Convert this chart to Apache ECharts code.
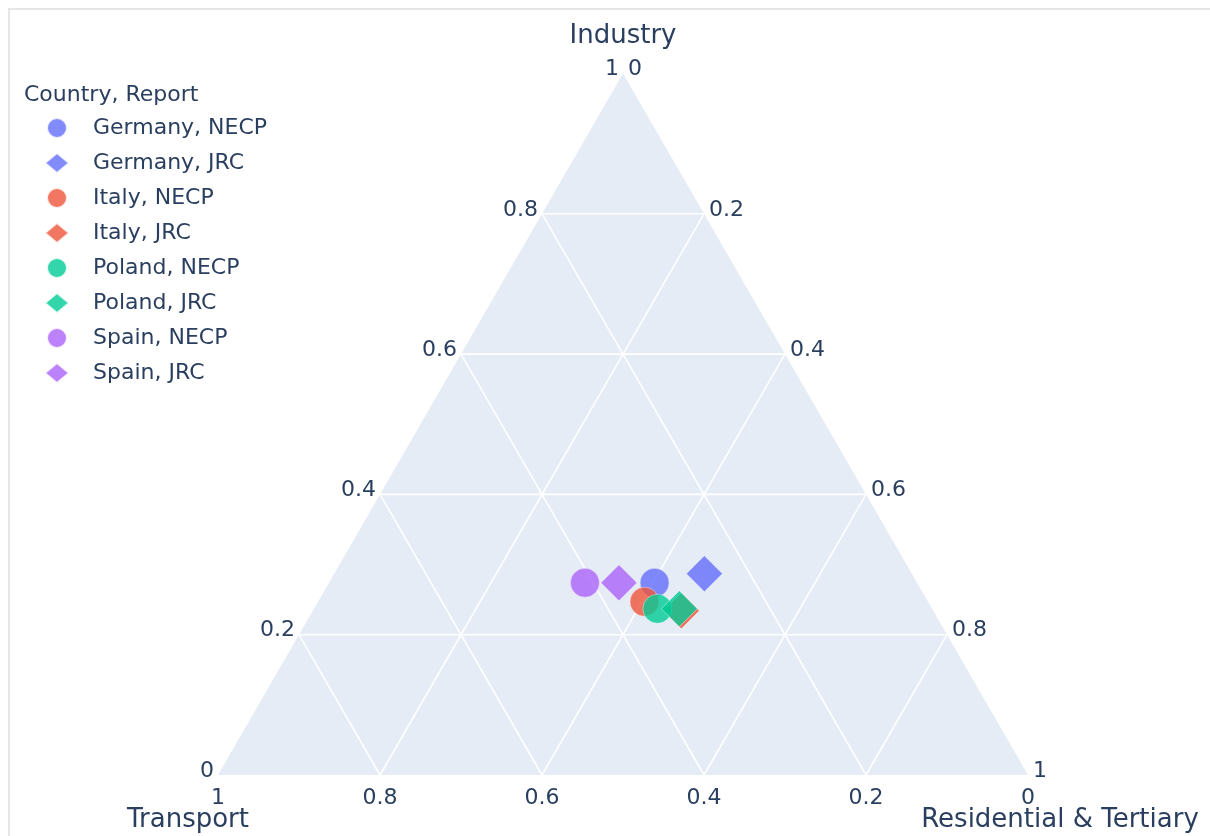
<!DOCTYPE html>
<html>
<head>
<meta charset="utf-8">
<script src="https://cdn.jsdelivr.net/npm/echarts@6/dist/echarts.min.js"></script>
<style>
  html, body { margin: 0; padding: 0; background: #fff; }
  #main { width: 1210px; height: 836px; }
</style>
</head>
<body>
<div id="main"></div>
<script>
// points, one per country/report (shares)
const names = ['Germany, NECP', 'Germany, JRC', 'Italy, NECP', 'Italy, JRC',
               'Poland, NECP', 'Poland, JRC', 'Spain, NECP', 'Spain, JRC'];
const industry    = [0.274, 0.287, 0.247, 0.234, 0.237, 0.237, 0.274, 0.274];
const transport   = [0.324, 0.256, 0.350, 0.311, 0.339, 0.312, 0.410, 0.368];
const residential = [0.402, 0.457, 0.403, 0.455, 0.424, 0.451, 0.316, 0.358];
const symbols = ['circle', 'diamond', 'circle', 'diamond', 'circle', 'diamond', 'circle', 'diamond'];
const colors  = ['#636efa', '#636efa', '#ef553b', '#ef553b', '#00cc96', '#00cc96', '#ab63fa', '#ab63fa'];

// axis ticks
const tickValues = [0, 0.2, 0.4, 0.6, 0.8, 1];
const tickLabels = ['0', '0.2', '0.4', '0.6', '0.8', '1'];
const gridValues = [0.2, 0.4, 0.6, 0.8];

const FONT = 'DejaVu Sans';
const TXT = '#2a3f5f';

// ternary (a = industry, c = residential) -> plane coords
function toXY(a, c) {
  return [c + a / 2, a];
}

var myChart = echarts.init(document.getElementById('main'));

function renderFrame(params, api) {
  var kids = [];
  var A = api.coord(toXY(1, 0));   // top, Industry
  var B = api.coord(toXY(0, 0));   // bottom left, Transport
  var C = api.coord(toXY(0, 1));   // bottom right, Residential
  kids.push({
    type: 'polygon',
    shape: { points: [A, B, C] },
    style: { fill: '#e5ecf6' }
  });
  gridValues.forEach(function (k) {
    var segs = [
      [toXY(k, 0), toXY(k, 1 - k)],          // industry = k
      [toXY(1 - k, 0), toXY(0, 1 - k)],      // transport = k
      [toXY(1 - k, k), toXY(0, k)]           // residential = k
    ];
    segs.forEach(function (s) {
      var p1 = api.coord(s[0]), p2 = api.coord(s[1]);
      kids.push({
        type: 'line',
        shape: { x1: p1[0], y1: p1[1], x2: p2[0], y2: p2[1] },
        style: { stroke: '#ffffff', lineWidth: 1.6 }
      });
    });
  });
  var font = '22px "' + FONT + '"';
  tickValues.forEach(function (k, i) {
    // industry labels, left side
    var p = api.coord(toXY(k, 0));
    kids.push({ type: 'text', x: p[0] - 4, y: p[1] - 4,
      style: { text: tickLabels[i], font: font, fill: TXT, align: 'right', verticalAlign: 'middle' } });
    // residential labels, right side
    var q = api.coord(toXY(1 - k, k));
    kids.push({ type: 'text', x: q[0] + 5, y: q[1] - 4,
      style: { text: tickLabels[i], font: font, fill: TXT, align: 'left', verticalAlign: 'middle' } });
    // transport labels, bottom
    var r = api.coord(toXY(0, 1 - k));
    kids.push({ type: 'text', x: r[0], y: r[1] + 23,
      style: { text: tickLabels[i], font: font, fill: TXT, align: 'center', verticalAlign: 'middle' } });
  });
  var tfont = '26px "' + FONT + '"';
  kids.push({ type: 'text', x: A[0], y: A[1] - 37,
    style: { text: 'Industry', font: tfont, fill: TXT, align: 'center', verticalAlign: 'middle' } });
  kids.push({ type: 'text', x: B[0] - 30, y: B[1] + 45,
    style: { text: 'Transport', font: tfont, fill: TXT, align: 'center', verticalAlign: 'middle' } });
  kids.push({ type: 'text', x: C[0] + 32, y: C[1] + 45,
    style: { text: 'Residential & Tertiary', font: tfont, fill: TXT, align: 'center', verticalAlign: 'middle' } });
  return { type: 'group', children: kids };
}

var series = [{
  type: 'custom',
  name: 'frame',
  silent: true,
  z: 1,
  renderItem: renderFrame,
  data: [[0, 0]]
}];

names.forEach(function (n, i) {
  series.push({
    type: 'scatter',
    name: n,
    z: 5 + i,
    symbol: symbols[i],
    symbolSize: symbols[i] === 'circle' ? 29 : 36,
    itemStyle: { color: colors[i], opacity: 0.8, borderColor: '#ffffff', borderWidth: 0.5 },
    data: [toXY(industry[i], residential[i])]
  });
});

var option = {
  backgroundColor: '#ffffff',
  animation: false,
  title: {
    text: 'Country, Report',
    left: 19,
    top: 79,
    textStyle: { fontFamily: FONT, fontSize: 22, fontWeight: 'normal', color: TXT }
  },
  legend: {
    orient: 'vertical',
    left: 39,
    top: 112,
    itemWidth: 24,
    itemHeight: 20,
    itemGap: 13,
    data: names.map(function (n, i) { return { name: n, icon: symbols[i] }; }),
    textStyle: { fontFamily: FONT, fontSize: 22, color: TXT, padding: [0, 0, 0, 19] }
  },
  grid: { left: 218, top: 73.5, width: 810, height: 701.5 },
  xAxis: { type: 'value', min: 0, max: 1, show: false },
  yAxis: { type: 'value', min: 0, max: 1, show: false },
  graphic: [{
    type: 'rect',
    shape: { x: 9, y: 9, width: 1220, height: 840 },
    style: { fill: null, stroke: '#e6e6e6', lineWidth: 2 },
    silent: true
  }],
  series: series
};

myChart.setOption(option);
</script>
</body>
</html>
